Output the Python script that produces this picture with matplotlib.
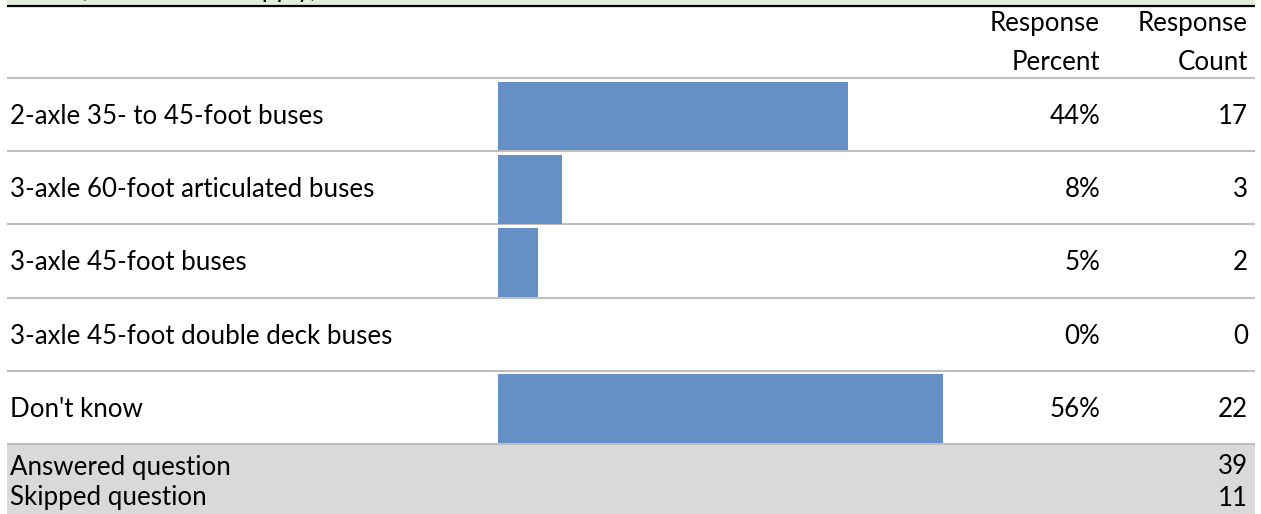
import numpy as np
import matplotlib.pyplot as plt

plt.rcParams['font.family'] = ['Lato', 'DejaVu Sans']

answers = ["2-axle 35- to 45-foot buses",
           "3-axle 60-foot articulated buses",
           "3-axle 45-foot buses",
           "3-axle 45-foot double deck buses",
           "Don't know"]
percent = [44, 8, 5, 0, 56]
counts = [17, 3, 2, 0, 22]
answered = 39
skipped = 11

W, H = 1261, 514
fig = plt.figure(figsize=(W / 100, H / 100), dpi=100)

# full-figure axes in pixel units for the table layout
ax = fig.add_axes([0, 0, 1, 1])
ax.set_xlim(0, W)
ax.set_ylim(H, 0)
ax.axis('off')

left, right = 7, 1255
row_top, row_h = 78, 73.2
fs = 18.6

# question banner, mostly scrolled off the top
ax.axhspan(0, 4.5, xmin=left / W, xmax=right / W, color='#e2efda', lw=0)
ax.text(10, -2.5, "fleet? (Check all that apply)", fontsize=fs, va='baseline')
ax.plot([left, right], [5.8, 5.8], color='black', lw=1.6, solid_capstyle='butt')

# header
ax.text(1100, 24, "Response", fontsize=fs, ha='right', va='center')
ax.text(1100, 63, "Percent", fontsize=fs, ha='right', va='center')
ax.text(1248, 24, "Response", fontsize=fs, ha='right', va='center')
ax.text(1248, 63, "Count", fontsize=fs, ha='right', va='center')

n = len(answers)
for i in range(n + 1):
    y = row_top + i * row_h
    ax.plot([left, right], [y, y], color='#bfbfbf', lw=1.5, solid_capstyle='butt')

for i, (label, p, c) in enumerate(zip(answers, percent, counts)):
    yc = row_top + (i + 0.5) * row_h + 2
    ax.text(10, yc, label, fontsize=fs, va='center')
    ax.text(1100, yc, f"{p}%", fontsize=fs, ha='right', va='center')
    ax.text(1248, yc, str(c), fontsize=fs, ha='right', va='center')

# summary rows
sum_top = row_top + n * row_h + 1
ax.axhspan(sum_top, H, xmin=left / W, xmax=right / W, color='#d9d9d9', lw=0)
ax.text(10, 467, "Answered question", fontsize=fs, va='center')
ax.text(1248, 467, str(answered), fontsize=fs, ha='right', va='center')
ax.text(10, 498, "Skipped question", fontsize=fs, va='center')
ax.text(1248, 498, str(skipped), fontsize=fs, ha='right', va='center')

# bar column: 0-100% spans 795 px starting at x=498
bx0, bw = 498, 795
bax = fig.add_axes([bx0 / W, 1 - (row_top + n * row_h) / H, bw / W, n * row_h / H])
bax.set_xlim(0, 100)
bax.set_ylim(n, 0)
bax.axis('off')
pos = np.arange(n) + 0.52
bax.barh(pos, percent, height=0.94, left=0, color='#6590c6')

fig.savefig('out.png', dpi=100)
